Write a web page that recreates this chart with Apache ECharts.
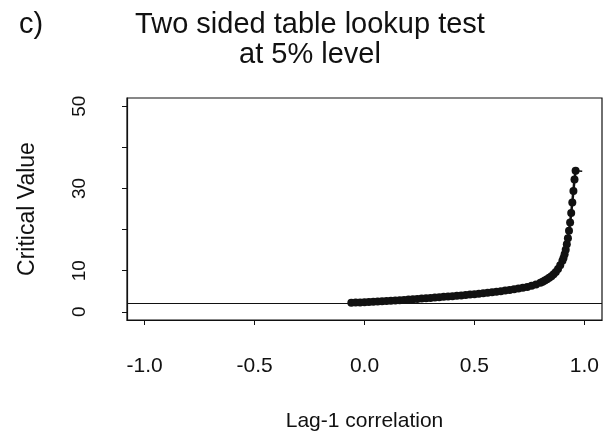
<!DOCTYPE html>
<html>
<head>
<meta charset="utf-8">
<script src="https://cdn.jsdelivr.net/npm/echarts@6/dist/echarts.min.js"></script>
<style>
  html, body { margin: 0; padding: 0; background: #fff; }
  #chart { width: 611px; height: 433px; }
</style>
</head>
<body>
<div id="chart"></div>
<script>
/* global echarts */

// lag-1 correlation (x) and critical value (y)
const lagValues = [
  -0.06, -0.04, -0.02, 0.00, 0.02, 0.04, 0.06, 0.08, 0.10, 0.12,
  0.14, 0.16, 0.18, 0.20, 0.22, 0.24, 0.26, 0.28, 0.30, 0.32,
  0.34, 0.36, 0.38, 0.40, 0.42, 0.44, 0.46, 0.48, 0.50, 0.52,
  0.54, 0.56, 0.58, 0.60, 0.62, 0.64, 0.66, 0.68, 0.70, 0.72,
  0.74, 0.76, 0.78, 0.80, 0.81, 0.82, 0.83, 0.84, 0.85, 0.86,
  0.87, 0.88, 0.89, 0.90, 0.905, 0.91, 0.915, 0.92, 0.925, 0.93,
  0.935, 0.94, 0.945, 0.95, 0.955, 0.96,
];
const critValues = [
  2.20, 2.24, 2.28, 2.32, 2.37, 2.42, 2.48, 2.54, 2.60, 2.67,
  2.74, 2.81, 2.89, 2.97, 3.05, 3.13, 3.21, 3.29, 3.37, 3.46,
  3.55, 3.63, 3.71, 3.80, 3.89, 3.98, 4.08, 4.18, 4.28, 4.39,
  4.50, 4.62, 4.75, 4.88, 5.02, 5.16, 5.31, 5.47, 5.64, 5.83,
  6.05, 6.32, 6.65, 7.05, 7.30, 7.60, 7.90, 8.25, 8.65, 9.10,
  9.70, 10.4, 11.3, 12.4, 13.1, 14.0, 15.1, 16.4, 17.9, 19.7,
  21.7, 24.0, 26.6, 29.4, 32.2, 34.3,
];
// short flat end of the curve
const tailLag = [0.96, 0.99];
const tailCrit = [34.3, 34.2];

const refLevel = 2.1;

const xTicks = [-1.0, -0.5, 0.0, 0.5, 1.0];
const yTicks = [0, 10, 20, 30, 40, 50];
const yTickLabels = [0, 10, 30, 50];

const FONT = "Liberation Sans, Arial, Helvetica, sans-serif";
const INK = "#111";

const chart = echarts.init(document.getElementById("chart"), null, { renderer: "canvas" });

const curve = lagValues.map((x, i) => [x, critValues[i]]);
const tail = tailLag.map((x, i) => [x, tailCrit[i]]);

const titleStyle = { fontFamily: FONT, fontSize: 29, fontWeight: "normal", color: INK, lineHeight: 30 };

const option = {
  animation: false,
  backgroundColor: "#fff",
  title: [
    {
      text: "c)",
      left: 19,
      top: 10,
      padding: 0,
      textStyle: titleStyle,
    },
    {
      text: "Two sided table lookup test\nat 5% level",
      left: 310,
      top: 10,
      padding: 0,
      textAlign: "center",
      textStyle: titleStyle,
    },
  ],
  grid: {
    left: 127,
    right: 9,
    top: 98,
    bottom: 113,
    outerBoundsMode: "none",
    containLabel: false,
    show: true,
    borderColor: INK,
    borderWidth: 1.2,
    backgroundColor: "transparent",
  },
  xAxis: {
    type: "value",
    min: -1.08,
    max: 1.08,
    name: "Lag-1 correlation",
    nameLocation: "middle",
    nameGap: 91,
    nameTextStyle: { fontFamily: FONT, fontSize: 21, color: INK },
    axisLine: { show: true, onZero: false, lineStyle: { color: INK, width: 1.2 } },
    axisTick: { show: true, length: 5, customValues: xTicks, lineStyle: { color: INK, width: 1 } },
    axisLabel: {
      customValues: xTicks,
      formatter: (v) => v.toFixed(1),
      fontFamily: FONT,
      fontSize: 21,
      color: INK,
      margin: 36,
    },
    splitLine: { show: false },
  },
  yAxis: {
    type: "value",
    min: -2,
    max: 52,
    name: "Critical Value",
    nameLocation: "middle",
    nameRotate: 90,
    nameGap: 88,
    nameTextStyle: { fontFamily: FONT, fontSize: 23, color: INK },
    axisLine: { show: true, onZero: false, lineStyle: { color: INK, width: 1.2 } },
    axisTick: { show: true, length: 5, customValues: yTicks, lineStyle: { color: INK, width: 1 } },
    axisLabel: {
      customValues: yTickLabels,
      rotate: 90,
      fontFamily: FONT,
      fontSize: 19,
      color: INK,
      margin: 38,
    },
    splitLine: { show: false },
  },
  series: [
    {
      type: "line",
      data: curve,
      symbol: "circle",
      symbolSize: 8,
      showAllSymbol: true,
      itemStyle: { color: INK },
      lineStyle: { color: INK, width: 2.5 },
      markLine: {
        silent: true,
        symbol: "none",
        label: { show: false },
        lineStyle: { color: INK, width: 1, type: "solid" },
        data: [{ yAxis: refLevel }],
      },
    },
    {
      type: "line",
      data: tail,
      showSymbol: false,
      lineStyle: { color: INK, width: 1.5 },
    },
  ],
};

chart.setOption(option);
</script>
</body>
</html>
